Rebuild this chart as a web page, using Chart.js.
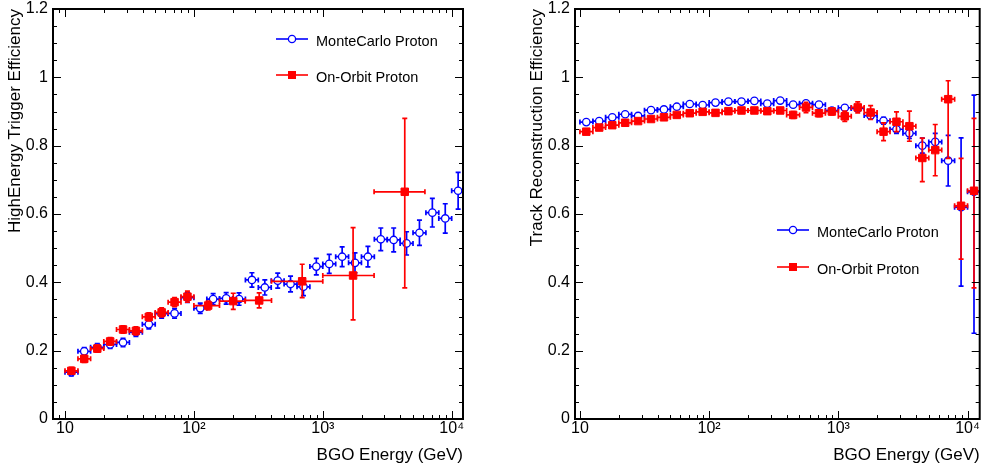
<!DOCTYPE html>
<html>
<head>
<meta charset="utf-8">
<script src="https://cdn.jsdelivr.net/npm/chart.js@4.4.0/dist/chart.umd.min.js"></script>
<style>
body { margin: 0; background: #fff; overflow: hidden; }
.panel { position: absolute; top: 0; width: 493px; height: 471px; }
</style>
</head>
<body>
<div class="panel" style="left:0"><canvas id="trigChart" width="493" height="471"></canvas></div>
<div class="panel" style="left:493px"><canvas id="trackChart" width="493" height="471"></canvas></div>
<script>
// energy bins (GeV), 10 per decade
var energyBins = [11.2, 14.1, 17.8, 22.4, 28.2, 35.5, 44.7, 56.2, 70.8, 89.1, 112, 141, 178, 224, 282, 355, 447, 562, 708, 891,
                  1122, 1413, 1778, 2239, 2818, 3548, 4467, 5623, 7079, 8913, 11220];
var binEdges = [10, 12.6, 15.8, 20, 25.1, 31.6, 39.8, 50.1, 63.1, 79.4, 100, 126, 158, 200, 251, 316, 398, 501, 631, 794,
                1000, 1259, 1585, 1995, 2512, 3162, 3981, 5012, 6310, 7943, 10000, 12589];

var decadeTicks = [10, 100, 1000, 10000];
var decadeLabels = ['10', '10²', '10³', '10⁴'];

// left: high energy trigger efficiency
var trigMc = [0.137, 0.198, 0.210, 0.218, 0.224, 0.254, 0.277, 0.308, 0.309, 0.355, 0.324, 0.351, 0.353, 0.351, 0.407, 0.385,
              0.405, 0.395, 0.387, 0.446, 0.454, 0.475, 0.457, 0.475, 0.526, 0.524, 0.514, 0.545, 0.604, 0.587, 0.668];
var trigMcErr = [0.011, 0.011, 0.011, 0.011, 0.012, 0.012, 0.013, 0.013, 0.014, 0.014, 0.015, 0.016, 0.017, 0.018, 0.021, 0.022,
                 0.022, 0.023, 0.026, 0.024, 0.028, 0.029, 0.029, 0.030, 0.033, 0.035, 0.034, 0.037, 0.042, 0.043, 0.054];
var trigOrbitE = [11.2, 14.1, 17.8, 22.4, 28.2, 35.5, 44.7, 56.2, 70.8, 89.1, 129, 202, 321, 692, 1718, 4325];
var trigOrbitEdges = [10, 12.6, 15.8, 20, 25.1, 31.6, 39.8, 50.1, 63.1, 79.4, 100, 158, 250, 400, 1000, 2500, 6200];
var trigOrbit = [0.141, 0.176, 0.206, 0.227, 0.262, 0.258, 0.299, 0.312, 0.342, 0.358, 0.332, 0.345, 0.347, 0.403, 0.420, 0.665];
var trigOrbitErrUp = [0.010, 0.010, 0.010, 0.011, 0.011, 0.012, 0.012, 0.013, 0.013, 0.016, 0.013, 0.023, 0.022, 0.050, 0.140, 0.215];
var trigOrbitErrDown = [0.010, 0.010, 0.010, 0.011, 0.011, 0.012, 0.012, 0.013, 0.013, 0.016, 0.013, 0.024, 0.022, 0.048, 0.130, 0.281];

// right: track reconstruction efficiency
var trackMc = [0.869, 0.872, 0.883, 0.892, 0.887, 0.904, 0.906, 0.914, 0.922, 0.919, 0.926, 0.929, 0.929, 0.931, 0.923, 0.932,
               0.920, 0.924, 0.920, 0.903, 0.911, 0.909, 0.888, 0.873, 0.848, 0.836, 0.800, 0.811, 0.756, 0.620, 0.665];
var trackMcErrUp = [0.003, 0.003, 0.003, 0.003, 0.003, 0.003, 0.003, 0.003, 0.003, 0.003, 0.003, 0.003, 0.003, 0.003, 0.003, 0.003,
                    0.003, 0.003, 0.004, 0.004, 0.005, 0.006, 0.008, 0.010, 0.012, 0.015, 0.022, 0.025, 0.074, 0.203, 0.283];
var trackMcErrDown = [0.003, 0.003, 0.003, 0.003, 0.003, 0.003, 0.003, 0.003, 0.003, 0.003, 0.003, 0.003, 0.003, 0.003, 0.003, 0.003,
                      0.003, 0.003, 0.004, 0.004, 0.005, 0.006, 0.008, 0.010, 0.012, 0.015, 0.022, 0.025, 0.074, 0.231, 0.414];
var trackOrbit = [0.841, 0.853, 0.860, 0.867, 0.872, 0.878, 0.883, 0.890, 0.895, 0.899, 0.896, 0.901, 0.903, 0.903, 0.901, 0.903,
                  0.890, 0.912, 0.895, 0.900, 0.886, 0.912, 0.897, 0.841, 0.870, 0.857, 0.764, 0.787, 0.936, 0.624, 0.668];
var trackOrbitErrUp = [0.003, 0.003, 0.003, 0.003, 0.003, 0.003, 0.003, 0.003, 0.003, 0.003, 0.003, 0.003, 0.003, 0.003, 0.004, 0.006,
                       0.010, 0.015, 0.010, 0.010, 0.015, 0.016, 0.020, 0.026, 0.029, 0.044, 0.058, 0.075, 0.054, 0.139, 0.212];
var trackOrbitErrDown = [0.003, 0.003, 0.003, 0.003, 0.003, 0.003, 0.003, 0.003, 0.003, 0.003, 0.003, 0.003, 0.003, 0.003, 0.004, 0.006,
                         0.010, 0.015, 0.010, 0.010, 0.015, 0.016, 0.020, 0.026, 0.029, 0.044, 0.069, 0.075, 0.173, 0.156, 0.284];

var FONT = "'Liberation Sans', Arial, sans-serif";

function points(xs, ys) {
    return xs.map(function (x, i) { return { x: x, y: ys[i] }; });
}

// error bars drawn right before each dataset, so layering follows the datasets
var errorBars = {
    id: 'errorBars',
    beforeDatasetDraw: function (chart, args) {
        var ds = chart.data.datasets[args.index];
        var xs = chart.scales.x, ys = chart.scales.y, ctx = chart.ctx, a = chart.chartArea;
        var cap = 2.5;
        ctx.save();
        ctx.beginPath();
        ctx.rect(a.left, a.top, a.right - a.left, a.bottom - a.top);
        ctx.clip();
        ctx.strokeStyle = ds.borderColor;
        ctx.lineWidth = 1.7;
        ds.data.forEach(function (p, i) {
            var px = xs.getPixelForValue(p.x), py = ys.getPixelForValue(p.y);
            var x0 = xs.getPixelForValue(ds.edges[i]), x1 = xs.getPixelForValue(ds.edges[i + 1]);
            var y0 = ys.getPixelForValue(p.y - ds.errDown[i]), y1 = ys.getPixelForValue(p.y + ds.errUp[i]);
            ctx.beginPath();
            ctx.moveTo(x0, py); ctx.lineTo(x1, py);
            ctx.moveTo(px, y0); ctx.lineTo(px, y1);
            ctx.moveTo(x0, py - cap); ctx.lineTo(x0, py + cap);
            ctx.moveTo(x1, py - cap); ctx.lineTo(x1, py + cap);
            ctx.moveTo(px - cap, y0); ctx.lineTo(px + cap, y0);
            ctx.moveTo(px - cap, y1); ctx.lineTo(px + cap, y1);
            ctx.stroke();
        });
        ctx.restore();
    }
};

// ROOT style frame with inward ticks on all four sides
var rootFrame = {
    id: 'rootFrame',
    afterDatasetsDraw: function (chart) {
        var ctx = chart.ctx, a = chart.chartArea, xs = chart.scales.x, ys = chart.scales.y;
        ctx.save();
        ctx.strokeStyle = '#000';
        ctx.lineWidth = 1;
        ctx.beginPath();
        for (var i = 0; i <= 24; i++) {
            var y = Math.round(ys.getPixelForValue(i * 0.05)) + 0.5;
            var len = i % 4 === 0 ? 8 : 4;
            ctx.moveTo(a.left, y); ctx.lineTo(a.left + len, y);
            ctx.moveTo(a.right, y); ctx.lineTo(a.right - len, y);
        }
        for (var d = 1; d <= 10000; d *= 10) {
            for (var m = 1; m <= 9; m++) {
                var v = m * d;
                if (v < xs.min || v > xs.max) continue;
                var x = Math.round(xs.getPixelForValue(v)) + 0.5;
                var l = m === 1 ? 8 : 4;
                ctx.moveTo(x, a.bottom); ctx.lineTo(x, a.bottom - l);
                ctx.moveTo(x, a.top); ctx.lineTo(x, a.top + l);
            }
        }
        ctx.stroke();
        ctx.lineWidth = 2;
        ctx.strokeRect(a.left, a.top, a.right - a.left, a.bottom - a.top);
        ctx.restore();
    }
};

// legend box placed inside the frame
var rootLegend = {
    id: 'rootLegend',
    afterDraw: function (chart, args, opts) {
        var ctx = chart.ctx;
        ctx.save();
        opts.order.forEach(function (idx, row) {
            var ds = chart.data.datasets[idx];
            var y = opts.rows[row];
            ctx.strokeStyle = ds.borderColor;
            ctx.lineWidth = 1.6;
            ctx.beginPath();
            ctx.moveTo(opts.x, y); ctx.lineTo(opts.x + 32, y);
            ctx.stroke();
            var cx = opts.x + 16;
            if (ds.pointStyle === 'circle') {
                ctx.fillStyle = '#fff';
                ctx.lineWidth = 1.3;
                ctx.beginPath();
                ctx.arc(cx, y, 3.6, 0, Math.PI * 2);
                ctx.fill(); ctx.stroke();
            } else {
                ctx.fillStyle = ds.backgroundColor;
                ctx.fillRect(cx - 4, y - 4, 8, 8);
            }
            ctx.fillStyle = '#000';
            ctx.font = '14.5px ' + FONT;
            ctx.textBaseline = 'middle';
            ctx.textAlign = 'left';
            ctx.fillText(ds.label, opts.x + 40, y + 3);
        });
        ctx.restore();
    }
};

function makeChart(id, cfg) {
    var orbitDs = {
        label: 'On-Orbit Proton',
        data: points(cfg.orbitE, cfg.orbit),
        edges: cfg.orbitEdges, errUp: cfg.orbitUp, errDown: cfg.orbitDown,
        pointStyle: 'rect', pointRadius: 5.3, borderWidth: 1,
        backgroundColor: '#ff0000', borderColor: '#ff0000', showLine: false
    };
    var mcDs = {
        label: 'MonteCarlo Proton',
        data: points(energyBins, cfg.mc),
        edges: binEdges, errUp: cfg.mcUp, errDown: cfg.mcDown,
        pointStyle: 'circle', pointRadius: 3.7, borderWidth: 1.3,
        backgroundColor: '#ffffff', borderColor: '#0000ff', showLine: false
    };
    return new Chart(document.getElementById(id), {
        type: 'scatter',
        data: { datasets: [orbitDs, mcDs] },
        plugins: [errorBars, rootFrame, rootLegend],
        options: {
            responsive: false,
            animation: false,
            layout: { padding: { top: 9, right: cfg.padRight, left: 0, bottom: 0 } },
            plugins: {
                legend: { display: false },
                tooltip: { enabled: false },
                rootLegend: cfg.legend
            },
            scales: {
                x: {
                    type: 'logarithmic',
                    min: cfg.xMin, max: cfg.xMax,
                    grid: { display: false, drawTicks: false },
                    border: { display: false },
                    afterBuildTicks: function (axis) {
                        axis.ticks = decadeTicks.map(function (v) { return { value: v }; });
                    },
                    afterFit: function (axis) { axis.height = 52; },
                    ticks: {
                        autoSkip: false, maxRotation: 0, padding: 0,
                        color: '#000', font: { family: FONT, size: 16 },
                        callback: function (v) { return decadeLabels[decadeTicks.indexOf(v)]; }
                    },
                    title: {
                        display: true, text: 'BGO Energy (GeV)', align: 'end',
                        color: '#000', font: { family: FONT, size: 17 },
                        padding: { top: 0, bottom: 5 }
                    }
                },
                y: {
                    min: 0, max: 1.2,
                    grid: { display: false, drawTicks: false },
                    border: { display: false },
                    afterFit: function (axis) { axis.width = cfg.yWidth; },
                    ticks: {
                        stepSize: 0.2, padding: 5,
                        color: '#000', font: { family: FONT, size: 16, lineHeight: 0.5 },
                        callback: function (v) { return String(+v.toFixed(1)); }
                    },
                    title: {
                        display: true, text: cfg.yTitle, align: 'end',
                        color: '#000', font: { family: FONT, size: 17 },
                        padding: { top: cfg.titlePad, bottom: 0 }
                    }
                }
            }
        }
    });
}

makeChart('trigChart', {
    mc: trigMc, mcUp: trigMcErr, mcDown: trigMcErr,
    orbitE: trigOrbitE, orbit: trigOrbit, orbitEdges: trigOrbitEdges,
    orbitUp: trigOrbitErrUp, orbitDown: trigOrbitErrDown,
    xMin: 8.07, xMax: 12240, padRight: 30, yWidth: 53, titlePad: 5,
    yTitle: 'HighEnergy Trigger Efficiency',
    legend: { x: 276, rows: [39, 75], order: [1, 0] }
});

makeChart('trackChart', {
    mc: trackMc, mcUp: trackMcErrUp, mcDown: trackMcErrDown,
    orbitE: energyBins, orbit: trackOrbit, orbitEdges: binEdges,
    orbitUp: trackOrbitErrUp, orbitDown: trackOrbitErrDown,
    xMin: 9.16, xMax: 12420, padRight: 1, yWidth: 82, titlePad: 34,
    yTitle: 'Track Reconstruction Efficiency',
    legend: { x: 284, rows: [230, 267], order: [1, 0] }
});
</script>
</body>
</html>
